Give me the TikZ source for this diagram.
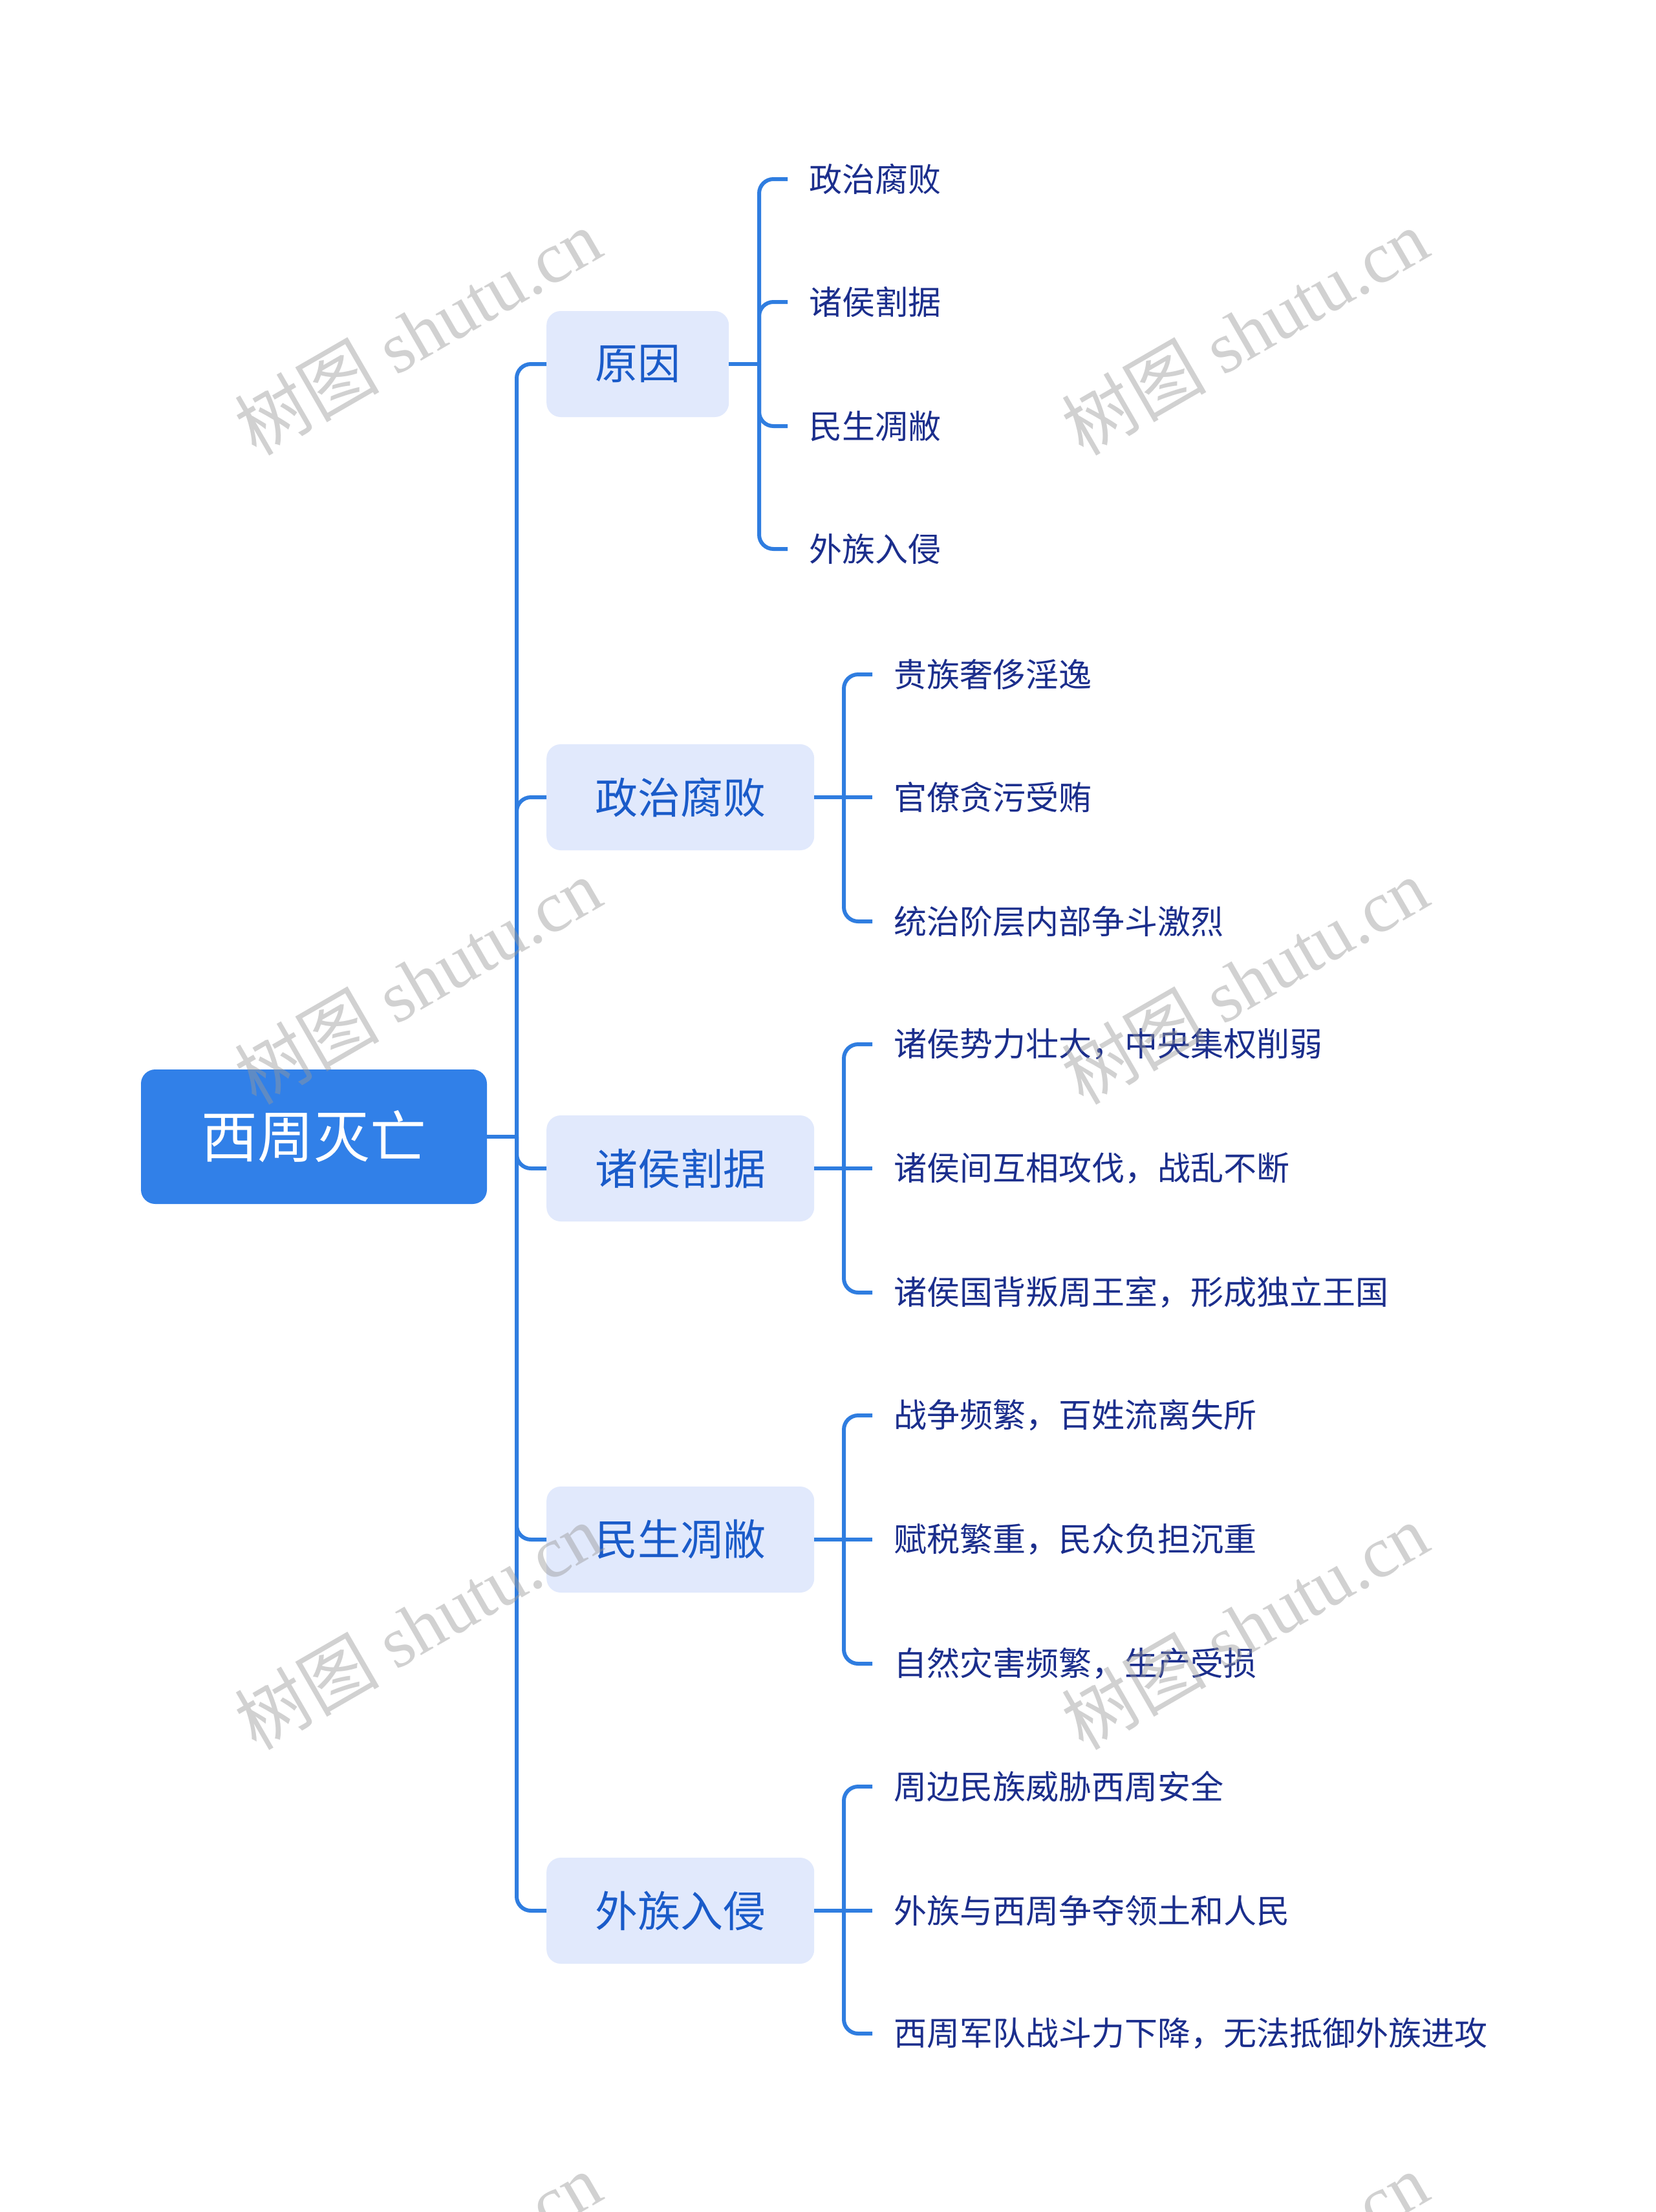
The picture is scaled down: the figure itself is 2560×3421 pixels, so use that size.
\documentclass[tikz,border=0pt]{standalone}
\usepackage{fontspec}
\newfontfamily\cjk{Noto Sans CJK SC}
\newfontfamily\wmlatin{Liberation Serif}
\definecolor{rootblue}{HTML}{3180E8}
\definecolor{linkblue}{HTML}{2F7DE0}
\definecolor{topicfill}{HTML}{E1E9FC}
\definecolor{topictext}{HTML}{1A5BC9}
\definecolor{leaftext}{HTML}{1B2E8C}
\definecolor{wmgray}{HTML}{999999}
\begin{document}
\begin{tikzpicture}[x=1pt,y=-1pt,
  conn/.style={draw=linkblue, line width=6pt, rounded corners=22pt},
  rootbox/.style={fill=rootblue, rounded corners=22pt, text=white,
    font=\cjk\fontsize{87}{87}\selectfont, minimum width=535pt,
    minimum height=208pt, inner sep=0pt},
  topicbox/.style={fill=topicfill, rounded corners=22pt, text=topictext,
    font=\cjk\fontsize{66}{66}\selectfont, minimum height=164pt,
    inner xsep=75pt, inner ysep=0pt, anchor=west},
  leaf/.style={text=leaftext, font=\cjk\fontsize{51}{51}\selectfont,
    anchor=west, inner xsep=33pt, inner ysep=0pt},
  wm/.style={text=wmgray, opacity=0.45, rotate=30, inner sep=0pt,
    font=\cjk\fontsize{112}{112}\selectfont}
]
\useasboundingbox (0,0) rectangle (2560,3421);
\fill[white] (0,0) rectangle (2560,3421);

% root
\node[rootbox] (root) at (485.5,1758) {西周灭亡};

% topics
\node[topicbox] (t1) at (845,563) {原因};
\node[topicbox] (t2) at (845,1233) {政治腐败};
\node[topicbox] (t3) at (845,1807) {诸侯割据};
\node[topicbox] (t4) at (845,2381) {民生凋敝};
\node[topicbox] (t5) at (845,2955) {外族入侵};

% leaves of 原因
\node[leaf] (a1) at (1218,277) {政治腐败};
\node[leaf] (a2) at (1218,467) {诸侯割据};
\node[leaf] (a3) at (1218,659) {民生凋敝};
\node[leaf] (a4) at (1218,849) {外族入侵};
% leaves of 政治腐败
\node[leaf] (b1) at (1349,1043) {贵族奢侈淫逸};
\node[leaf] (b2) at (1349,1233) {官僚贪污受贿};
\node[leaf] (b3) at (1349,1425) {统治阶层内部争斗激烈};
% leaves of 诸侯割据
\node[leaf] (c1) at (1349,1615) {诸侯势力壮大，中央集权削弱};
\node[leaf] (c2) at (1349,1807) {诸侯间互相攻伐，战乱不断};
\node[leaf] (c3) at (1349,1999) {诸侯国背叛周王室，形成独立王国};
% leaves of 民生凋敝
\node[leaf] (d1) at (1349,2189) {战争频繁，百姓流离失所};
\node[leaf] (d2) at (1349,2381) {赋税繁重，民众负担沉重};
\node[leaf] (d3) at (1349,2573) {自然灾害频繁，生产受损};
% leaves of 外族入侵
\node[leaf] (e1) at (1349,2763) {周边民族威胁西周安全};
\node[leaf] (e2) at (1349,2955) {外族与西周争夺领土和人民};
\node[leaf] (e3) at (1349,3145) {西周军队战斗力下降，无法抵御外族进攻};

% trunk
\coordinate (tr) at (799,1758);
\draw[conn, rounded corners=0pt] (root.east) -- (tr);
\foreach \t in {t1,t2,t3,t4,t5} \draw[conn] (tr) |- (\t.west);

% spines
\coordinate (s1) at (1174,563);
\coordinate (s2) at (1305,1233);
\coordinate (s3) at (1305,1807);
\coordinate (s4) at (1305,2381);
\coordinate (s5) at (1305,2955);
\draw[conn, rounded corners=0pt] (t1.east) -- (s1);
\draw[conn, rounded corners=0pt] (t2.east) -- (s2);
\draw[conn, rounded corners=0pt] (t3.east) -- (s3);
\draw[conn, rounded corners=0pt] (t4.east) -- (s4);
\draw[conn, rounded corners=0pt] (t5.east) -- (s5);
\foreach \l in {a1,a2,a3,a4} \draw[conn] (s1) |- (\l.west);
\foreach \l in {b1,b3} \draw[conn] (s2) |- (\l.west);
\draw[conn] (s2) -- (b2.west);
\foreach \l in {c1,c3} \draw[conn] (s3) |- (\l.west);
\draw[conn] (s3) -- (c2.west);
\foreach \l in {d1,d3} \draw[conn] (s4) |- (\l.west);
\draw[conn] (s4) -- (d2.west);
\foreach \l in {e1,e3} \draw[conn] (s5) |- (\l.west);
\draw[conn] (s5) -- (e2.west);

% watermarks
\foreach \wx in {646,1925} {
  \foreach \wy in {513,1517,2515,3519} {
    \node[wm] at (\wx,\wy) {树图 {\wmlatin shutu.cn}};
  }
}
\end{tikzpicture}
\end{document}
